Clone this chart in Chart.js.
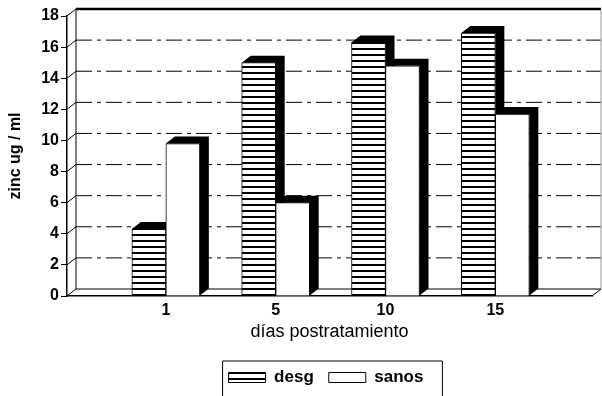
<!DOCTYPE html>
<html lang="es">
<head>
<meta charset="UTF-8">
<title>Zinc postratamiento</title>
<script src="https://cdn.jsdelivr.net/npm/chart.js"></script>
<style>
  body { margin: 0; background: #fff; }
  #wrap { width: 602px; height: 396px; }
</style>
</head>
<body>
<div id="wrap"><canvas id="zincChart" width="602" height="396"></canvas></div>
<script>
// datos
const dias = ['1', '5', '10', '15'];
const desg = [4.3, 15.0, 16.3, 16.9];
const sanos = [9.8, 6.0, 14.8, 11.7];
const yTicks = [0, 2, 4, 6, 8, 10, 12, 14, 16, 18];

// profundidad del efecto 3D
const DX = 9, DY = -7;
const FONT = "'Liberation Sans', Arial, Helvetica, sans-serif";

const canvas = document.getElementById('zincChart');
const ctx = canvas.getContext('2d');

// rayado horizontal para "desg"
function stripes() {
    const c = document.createElement('canvas');
    c.width = 6; c.height = 6;
    const g = c.getContext('2d');
    g.fillStyle = '#fff';
    g.fillRect(0, 0, 6, 6);
    g.fillStyle = '#000';
    g.fillRect(0, 0, 6, 2);
    return ctx.createPattern(c, 'repeat');
}
const rayado = stripes();

function line(c, x1, y1, x2, y2) {
    c.beginPath();
    c.moveTo(x1, y1);
    c.lineTo(x2, y2);
    c.stroke();
}

const fondo3d = {
    id: 'fondo3d',
    afterLayout(chart) {
        // correr la leyenda un poco a la derecha
        chart.legend.left += 30;
        chart.legend.right += 30;
    },
    beforeDatasetsDraw(chart) {
        const { ctx: c, chartArea: a, scales: { y } } = chart;
        c.save();
        c.strokeStyle = '#000';
        // pared del fondo y lineas de grilla
        yTicks.forEach(v => {
            const py = y.getPixelForValue(v);
            c.lineWidth = 1;
            c.setLineDash([]);
            line(c, a.left, py, a.left + DX, py + DY);
            if (v === 0) {
                line(c, a.left + DX, py + DY, a.right + DX, py + DY);
            } else if (v === yTicks[yTicks.length - 1]) {
                c.lineWidth = 2.5;
                line(c, a.left + DX, py + DY, a.right + DX, py + DY);
            } else {
                c.setLineDash([16, 5, 4, 5]);
                line(c, a.left + DX, py + DY, a.right + DX, py + DY);
            }
        });
        c.setLineDash([]);
        c.lineWidth = 1;
        line(c, a.left + DX, a.top + DY, a.left + DX, a.bottom + DY);
        line(c, a.right, a.bottom, a.right + DX, a.bottom + DY);
        c.strokeStyle = '#999';
        line(c, a.right + DX, a.top + DY, a.right + DX, a.bottom + DY);

        // caras superior y lateral de las barras
        c.fillStyle = '#000';
        chart.data.datasets.forEach((ds, di) => {
            chart.getDatasetMeta(di).data.forEach(bar => {
                const p = bar.getProps(['x', 'y', 'base', 'width'], true);
                const l = p.x - p.width / 2, r = p.x + p.width / 2;
                c.beginPath();
                c.moveTo(l, p.y);
                c.lineTo(l + DX, p.y + DY);
                c.lineTo(r + DX, p.y + DY);
                c.lineTo(r + DX, p.base + DY);
                c.lineTo(r, p.base);
                c.lineTo(r, p.y);
                c.closePath();
                c.fill();
            });
        });
        c.restore();
    },
    afterDraw(chart) {
        // marco de la leyenda
        const hb = chart.legend.legendHitBoxes;
        if (!hb || !hb.length) return;
        const c = chart.ctx;
        const last = hb[hb.length - 1];
        const l = hb[0].left - 6;
        const r = last.left + last.width + 19;
        const t = hb[0].top - 8;
        c.save();
        c.strokeStyle = '#000';
        c.lineWidth = 1;
        c.beginPath();
        c.moveTo(l, chart.height);
        c.lineTo(l, t);
        c.lineTo(r, t);
        c.lineTo(r, chart.height);
        c.stroke();
        c.restore();
    }
};

new Chart(ctx, {
    type: 'bar',
    data: {
        datasets: [{
            label: 'desg',
            data: desg.map((v, i) => ({ x: i, y: v })),
            backgroundColor: rayado,
            borderColor: '#000',
            borderWidth: 1
        }, {
            label: 'sanos',
            data: sanos.map((v, i) => ({ x: i, y: v })),
            backgroundColor: '#fff',
            borderColor: '#000',
            borderWidth: 1
        }]
    },
    options: {
        responsive: false,
        animation: false,
        events: [],
        barThickness: 34,
        layout: { padding: { top: 16, right: 10, left: 0, bottom: 0 } },
        plugins: {
            tooltip: { enabled: false },
            legend: {
                position: 'bottom',
                labels: {
                    boxWidth: 37,
                    boxHeight: 10,
                    padding: 15,
                    color: '#000',
                    font: { family: FONT, size: 17, weight: 'bold' },
                    generateLabels: chart => chart.data.datasets.map((ds, i) => ({
                        text: ds.label,
                        fillStyle: ds.backgroundColor,
                        strokeStyle: '#000',
                        lineWidth: 1,
                        fontColor: '#000',
                        hidden: false,
                        datasetIndex: i
                    }))
                }
            }
        },
        scales: {
            x: {
                type: 'linear',
                offset: false,
                min: -0.9,
                max: 3.88,
                afterBuildTicks: s => { s.ticks = dias.map((d, i) => ({ value: i })); },
                // la base del grafico queda cerca de y = 295
                afterFit: s => { s.height = s.chart.height - s.chart.legend.height - 296; },
                ticks: {
                    callback: v => dias[v],
                    color: '#000',
                    padding: 5,
                    autoSkip: false,
                    maxRotation: 0,
                    font: { family: FONT, size: 16, weight: 'bold' }
                },
                grid: { display: false, drawTicks: false },
                border: { display: true, color: '#000', width: 1.5 },
                title: {
                    display: true,
                    text: 'días postratamiento',
                    color: '#000',
                    padding: { top: 0, bottom: 11 },
                    font: { family: FONT, size: 18 }
                }
            },
            y: {
                min: 0,
                max: 18,
                afterBuildTicks: s => { s.ticks = yTicks.map(v => ({ value: v })); },
                afterFit: s => { s.width = 67; },
                ticks: {
                    color: '#000',
                    padding: 2,
                    font: { family: FONT, size: 16, weight: 'bold' }
                },
                grid: { drawOnChartArea: false, tickLength: 6, color: '#000', lineWidth: 1 },
                border: { display: true, color: '#000', width: 1.5 },
                title: {
                    display: true,
                    text: 'zinc ug / ml',
                    color: '#000',
                    padding: 6,
                    font: { family: FONT, size: 16, weight: 'bold' }
                }
            }
        }
    },
    plugins: [fondo3d]
});
</script>
</body>
</html>
